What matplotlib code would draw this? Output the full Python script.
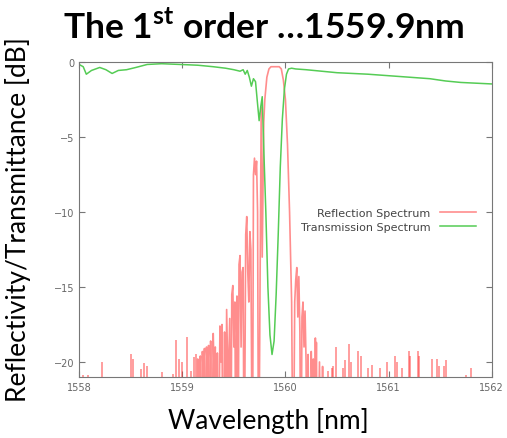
import matplotlib
matplotlib.use("Agg")
from matplotlib import pyplot as plt

# transmission spectrum (green)
trans_wl = [1558.00, 1558.04, 1558.07, 1558.12, 1558.20, 1558.26, 1558.32, 1558.38,
            1558.46, 1558.55, 1558.66, 1558.80, 1558.98, 1559.15, 1559.30, 1559.42,
            1559.50, 1559.56, 1559.59, 1559.61, 1559.63, 1559.65, 1559.67, 1559.69,
            1559.71, 1559.73, 1559.745, 1559.76, 1559.775, 1559.79, 1559.81, 1559.83,
            1559.85, 1559.87, 1559.89, 1559.91, 1559.93, 1559.95, 1559.97, 1559.99,
            1560.01, 1560.03, 1560.06, 1560.10, 1560.20, 1560.35, 1560.50, 1560.65,
            1560.80, 1561.00, 1561.20, 1561.40, 1561.55, 1561.70, 1561.85, 1562.00]
trans_db = [-0.15, -0.3, -0.8, -0.55, -0.35, -0.5, -0.75, -0.55,
            -0.5, -0.35, -0.15, -0.1, -0.15, -0.2, -0.3, -0.4,
            -0.5, -0.6, -0.5, -0.8, -0.55, -1.0, -1.6, -1.1,
            -1.3, -2.8, -3.9, -3.0, -2.3, -5.8, -10.0, -15.0,
            -18.2, -19.5, -18.6, -15.5, -11.5, -7.0, -3.8, -1.8,
            -0.8, -0.45, -0.4, -0.45, -0.5, -0.6, -0.7, -0.75,
            -0.8, -0.9, -1.0, -1.1, -1.25, -1.35, -1.4, -1.45]

# reflection spectrum main lobe and side lobes (red); -30 = null below the axis
refl_wl = [1559.14, 1559.15, 1559.16, 1559.175, 1559.185, 1559.195, 1559.205, 1559.215,
           1559.225, 1559.235, 1559.245, 1559.255, 1559.265, 1559.275, 1559.285, 1559.30,
           1559.31, 1559.32, 1559.33, 1559.34, 1559.35, 1559.365, 1559.375, 1559.385,
           1559.395, 1559.41, 1559.42, 1559.43, 1559.445, 1559.46, 1559.47, 1559.48,
           1559.49, 1559.50, 1559.51, 1559.52, 1559.53, 1559.54, 1559.55, 1559.56,
           1559.57, 1559.58, 1559.59, 1559.60, 1559.615, 1559.625, 1559.635, 1559.645,
           1559.655, 1559.665, 1559.68, 1559.69, 1559.70, 1559.71, 1559.72, 1559.73,
           1559.74, 1559.765, 1559.775, 1559.79, 1559.80, 1559.82, 1559.84, 1559.86,
           1559.90, 1559.94, 1559.96, 1559.98, 1560.00, 1560.02, 1560.04, 1560.06,
           1560.075, 1560.09, 1560.10, 1560.11, 1560.12, 1560.13, 1560.14, 1560.15,
           1560.16, 1560.17, 1560.18, 1560.19, 1560.20, 1560.21, 1560.22, 1560.23,
           1560.25, 1560.26, 1560.27, 1560.28, 1560.29, 1560.295, 1560.30, 1560.31,
           1560.33, 1560.345, 1560.36, 1560.37]
refl_db = [-30, -19.8, -30, -19.6, -30, -19.3, -21, -19.1,
           -30, -19.0, -21, -18.9, -30, -18.6, -30, -18.1,
           -21, -19.0, -30, -19.4, -30, -17.6, -20, -17.5,
           -30, -18.0, -30, -16.5, -22, -17.1, -30, -15.5,
           -14.9, -19, -16, -30, -15.6, -30, -13.5, -12.9,
           -19, -14.0, -13.7, -30, -11.5, -10.3, -14, -16,
           -11.3, -12.5, -30, -7.5, -6.4, -7.5, -6.6, -10,
           -30, -3.0, -13, -4.0, -2.5, -1.0, -0.45, -0.3,
           -0.3, -0.3, -0.45, -1.2, -2.5, -5.5, -10, -16,
           -30, -16, -14.5, -13.7, -17, -14.3, -18, -30,
           -17, -16.0, -19, -16.6, -20, -30, -19.5, -30,
           -19.3, -22, -19.8, -30, -18.4, -22, -18.7, -30,
           -20.0, -30, -20.3, -30]

# narrow noise spikes of the reflection spectrum
spike_wl = [1558.04, 1558.09, 1558.22, 1558.50, 1558.52, 1558.60, 1558.63, 1558.66,
            1558.80, 1558.91, 1558.94, 1558.97, 1559.00, 1559.05, 1559.08, 1559.11,
            1559.13, 1560.41, 1560.45, 1560.46, 1560.49, 1560.56, 1560.58, 1560.62,
            1560.64, 1560.70, 1560.73, 1560.80, 1560.84, 1560.92, 1560.98, 1561.06,
            1561.08, 1561.13, 1561.20, 1561.21, 1561.28, 1561.29, 1561.42, 1561.47,
            1561.49, 1561.54, 1561.56, 1561.75, 1561.80]
spike_db = [-20.9, -20.9, -20.0, -19.5, -19.8, -20.5, -20.1, -20.3,
            -20.7, -20.8, -18.5, -19.8, -20.0, -18.3, -20.6, -19.7,
            -19.5, -20.6, -20.4, -20.3, -19.0, -20.4, -19.9, -18.8,
            -20.0, -19.3, -19.6, -20.4, -20.2, -20.4, -20.0, -19.6,
            -20.0, -20.4, -19.3, -19.6, -19.3, -19.6, -19.8, -19.8,
            -20.3, -20.3, -19.9, -20.9, -20.4]

x_ticks = [1558, 1559, 1560, 1561, 1562]
y_ticks = [0, -5, -10, -15, -20]

fig = plt.figure(figsize=(5.07, 4.39), dpi=100)
ax = fig.add_axes([0.156, 0.139, 0.814, 0.717])

red = "#ff3030"
green = "#55cc55"
ax.plot(refl_wl, refl_db, color=red, lw=1.2, alpha=0.55, label="Reflection Spectrum")
ax.vlines(spike_wl, -30, spike_db, color=red, lw=1.2, alpha=0.55)
ax.plot(trans_wl, trans_db, color=green, lw=1.1, label="Transmission Spectrum")

ax.set_xlim(1558, 1562)
ax.set_ylim(-21, 0)
ax.set_xticks(x_ticks)
ax.set_yticks(y_ticks)
ax.tick_params(direction="in", top=True, right=True, labelsize=7,
               labelcolor="#666666", color="#777777", length=4)
for s in ax.spines.values():
    s.set_color("#777777")

leg = ax.legend(loc="center right", bbox_to_anchor=(0.961, 0.50), frameon=False,
                markerfirst=False, fontsize=8, handlelength=3.2, handletextpad=0.9,
                labelspacing=0.35, borderpad=0, borderaxespad=0)
for t in leg.get_texts():
    t.set_color("#444444")

fig.text(0.124, 0.911, r"The 1$^{\mathregular{st}}$ order …1559.9nm", fontsize=25.5,
         fontweight="bold", family="Lato", va="baseline")
fig.text(0.036, 0.50, "Reflectivity/Transmittance [dB]", rotation=90, fontsize=19,
         family="Lato", ha="center", va="center")
fig.text(0.53, 0.042, "Wavelength [nm]", fontsize=19, family="Lato",
         ha="center", va="center")

fig.savefig("out.png", dpi=100)
